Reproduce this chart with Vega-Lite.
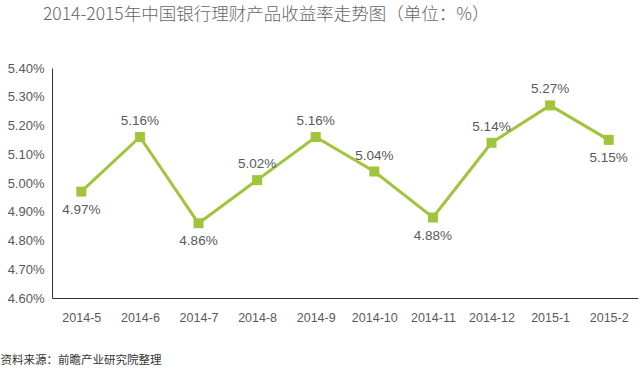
{
  "$schema": "https://vega.github.io/schema/vega-lite/v6.json",
  "autosize": "none",
  "width": 586,
  "height": 230,
  "padding": {"left": 52, "top": 68, "right": 2, "bottom": 71},
  "background": "white",
  "title": {
    "text": "2014-2015年中国银行理财产品收益率走势图（单位：%）",
    "anchor": "start",
    "frame": "group",
    "dx": -9,
    "offset": 39,
    "font": "Noto Sans CJK SC",
    "fontSize": 17.5,
    "fontWeight": 300,
    "color": "#666666"
  },
  "config": {
    "view": {"stroke": null},
    "font": "Liberation Sans"
  },
  "data": {
    "values": [
      {"month": "2014-5", "rate": 4.97, "label": "4.97%", "pos": "below"},
      {"month": "2014-6", "rate": 5.16, "label": "5.16%", "pos": "above"},
      {"month": "2014-7", "rate": 4.86, "label": "4.86%", "pos": "below"},
      {"month": "2014-8", "rate": 5.01, "label": "5.02%", "pos": "above"},
      {"month": "2014-9", "rate": 5.16, "label": "5.16%", "pos": "above"},
      {"month": "2014-10", "rate": 5.04, "label": "5.04%", "pos": "above"},
      {"month": "2014-11", "rate": 4.88, "label": "4.88%", "pos": "below"},
      {"month": "2014-12", "rate": 5.14, "label": "5.14%", "pos": "above"},
      {"month": "2015-1", "rate": 5.27, "label": "5.27%", "pos": "above"},
      {"month": "2015-2", "rate": 5.15, "label": "5.15%", "pos": "below"}
    ]
  },
  "encoding": {
    "x": {
      "field": "month",
      "type": "ordinal",
      "sort": null,
      "scale": {"paddingInner": 0, "paddingOuter": 0.5},
      "axis": {
        "title": "资料来源：前瞻产业研究院整理",
        "titleFont": "Noto Sans CJK SC",
        "titleFontSize": 11.5,
        "titleFontWeight": "normal",
        "titleColor": "#333333",
        "titleAnchor": "start",
        "titleAlign": "left",
        "titleX": -52,
        "titleY": 62,
        "titleBaseline": "middle",
        "labelAngle": 0,
        "labelFontSize": 12.5,
        "labelColor": "#595959",
        "labelPadding": 13,
        "ticks": false,
        "domainColor": "#333333",
        "domainWidth": 1,
        "grid": false
      }
    },
    "y": {
      "field": "rate",
      "type": "quantitative",
      "scale": {"domain": [4.6, 5.4], "nice": false, "zero": false},
      "axis": {
        "title": null,
        "values": [4.6, 4.7, 4.8, 4.9, 5.0, 5.1, 5.2, 5.3, 5.4],
        "labelExpr": "format(datum.value, '.2f') + '%'",
        "labelFontSize": 13,
        "labelColor": "#595959",
        "labelPadding": 8,
        "ticks": false,
        "grid": false,
        "domainColor": "#333333",
        "domainWidth": 1
      }
    }
  },
  "layer": [
    {
      "mark": {"type": "line", "color": "#a0c43c", "strokeWidth": 3}
    },
    {
      "mark": {"type": "point", "shape": "square", "filled": true, "size": 100, "color": "#a0c43c", "opacity": 1}
    },
    {
      "transform": [{"filter": "datum.pos === 'above'"}],
      "mark": {"type": "text", "dy": -16, "fontSize": 13.5, "color": "#595959", "baseline": "middle"},
      "encoding": {"text": {"field": "label"}}
    },
    {
      "transform": [{"filter": "datum.pos === 'below'"}],
      "mark": {"type": "text", "dy": 18, "fontSize": 13.5, "color": "#595959", "baseline": "middle"},
      "encoding": {"text": {"field": "label"}}
    }
  ]
}
